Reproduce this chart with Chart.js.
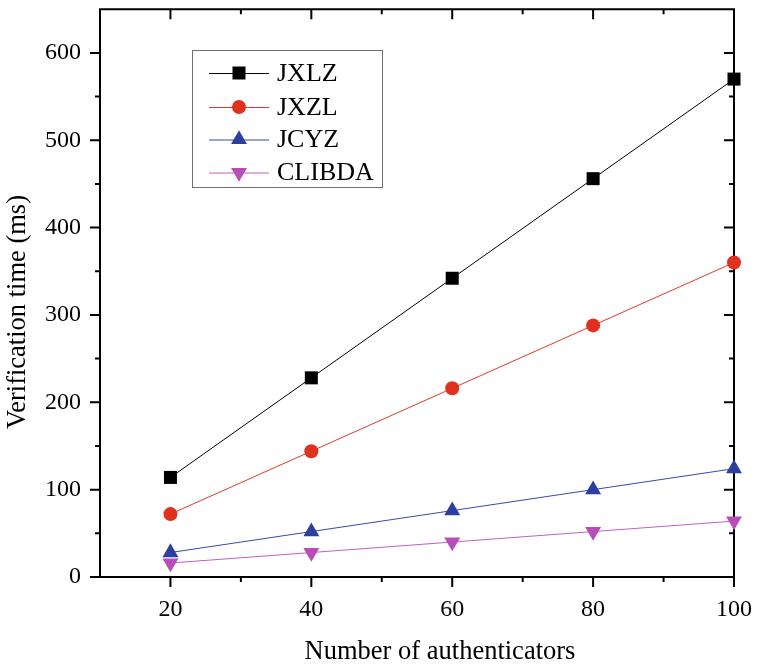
<!DOCTYPE html>
<html>
<head>
<meta charset="utf-8">
<script src="https://cdn.jsdelivr.net/npm/chart.js@4/dist/chart.umd.min.js"></script>
<style>
html,body{margin:0;padding:0;background:#fff;}
#wrap{width:758px;height:666px;}
</style>
</head>
<body>
<div id="wrap"><canvas id="c" width="758" height="666"></canvas></div>
<script>
const xValues = [20, 40, 60, 80, 100];
const jxlz = [114, 228, 342, 456, 570];
const jxzl = [72, 144, 216, 288, 360];
const jcyz = [28, 52, 76, 100, 124];
const clibda = [16, 28, 40, 52, 64];
const seriesLabels = ['JXLZ', 'JXZL', 'JCYZ', 'CLIBDA'];
const xTickValues = [20, 40, 60, 80, 100];
const xMinorValues = [30, 50, 70, 90];
const yTickValues = [0, 100, 200, 300, 400, 500, 600];
const yMinorValues = [50, 150, 250, 350, 450, 550];
const xTitle = 'Number of authenticators';
const yTitle = 'Verification time (ms)';

const FONT = 'Liberation Serif';
const toPts = (vals) => xValues.map((x, i) => ({x: x, y: vals[i]}));

const styles = [
  {line: '#000000', fill: '#000000', style: 'rect', r: 9.2, rot: 0},
  {line: '#e03a2a', fill: '#e0301e', style: 'circle', r: 7, rot: 0},
  {line: '#3a48a8', fill: '#2c3f9e', style: 'triangle', r: 9.2, rot: 0},
  {line: '#c060c8', fill: '#b84cb8', style: 'triangle', r: 9.2, rot: 180}
];
const seriesData = [jxlz, jxzl, jcyz, clibda];

const datasets = seriesData.map((vals, i) => ({
  label: seriesLabels[i],
  data: toPts(vals),
  borderColor: styles[i].line,
  backgroundColor: styles[i].fill,
  pointBackgroundColor: styles[i].fill,
  pointBorderColor: styles[i].fill,
  pointBorderWidth: 0,
  borderWidth: 1,
  pointStyle: styles[i].style,
  pointRadius: styles[i].r,
  pointHoverRadius: styles[i].r,
  pointRotation: styles[i].rot,
  tension: 0,
  clip: false
}));

function drawMarker(ctx, st, x, y) {
  ctx.save();
  ctx.fillStyle = st.fill;
  ctx.beginPath();
  const r = st.r;
  if (st.style === 'rect') {
    const s = Math.SQRT1_2 * r;
    ctx.rect(x - s, y - s, 2 * s, 2 * s);
  } else if (st.style === 'circle') {
    ctx.arc(x, y, r, 0, Math.PI * 2);
  } else {
    const rad = st.rot * Math.PI / 180;
    for (let k = 0; k < 3; k++) {
      const a = rad + k * 2 * Math.PI / 3;
      const px = x + Math.sin(a) * r;
      const py = y - Math.cos(a) * r;
      if (k === 0) ctx.moveTo(px, py); else ctx.lineTo(px, py);
    }
    ctx.closePath();
  }
  ctx.fill();
  ctx.restore();
}

const framePlugin = {
  id: 'frame',
  beforeDatasetsDraw(chart) {
    const ctx = chart.ctx;
    const {left, right, top, bottom} = chart.chartArea;
    const xs = chart.scales.x, ys = chart.scales.y;
    ctx.save();
    ctx.strokeStyle = '#000';
    ctx.lineWidth = 2;
    ctx.beginPath();
    ctx.rect(left, top, right - left, bottom - top);
    ctx.stroke();
    ctx.beginPath();
    const MAJ = 10, MIN = 5;
    xTickValues.forEach(v => {
      const p = xs.getPixelForValue(v);
      ctx.moveTo(p, bottom); ctx.lineTo(p, bottom + MAJ);
      ctx.moveTo(p, top); ctx.lineTo(p, top + MAJ);
    });
    xMinorValues.forEach(v => {
      const p = xs.getPixelForValue(v);
      ctx.moveTo(p, bottom); ctx.lineTo(p, bottom + MIN);
      ctx.moveTo(p, top); ctx.lineTo(p, top + MIN);
    });
    yTickValues.forEach(v => {
      const p = ys.getPixelForValue(v);
      ctx.moveTo(left, p); ctx.lineTo(left - MAJ, p);
      ctx.moveTo(right, p); ctx.lineTo(right - MAJ, p);
    });
    yMinorValues.forEach(v => {
      const p = ys.getPixelForValue(v);
      ctx.moveTo(left, p); ctx.lineTo(left - MIN, p);
      ctx.moveTo(right, p); ctx.lineTo(right - MIN, p);
    });
    ctx.stroke();

    // axis titles
    ctx.fillStyle = '#000';
    ctx.font = '26.5px "' + FONT + '"';
    ctx.textAlign = 'center';
    ctx.textBaseline = 'middle';
    ctx.fillText(xTitle, 440, 652);
    ctx.translate(18, 312);
    ctx.rotate(-Math.PI / 2);
    ctx.fillText(yTitle, 0, 0);
    ctx.restore();
  },
  afterDraw(chart) {
    const ctx = chart.ctx;
    ctx.save();
    const bx = 192.5, by = 50.5, bw = 190, bh = 137;
    ctx.fillStyle = '#fff';
    ctx.fillRect(bx, by, bw, bh);
    ctx.strokeStyle = '#707070';
    ctx.lineWidth = 1;
    ctx.strokeRect(bx, by, bw, bh);
    const rows = [73, 107, 139.5, 172.5];
    ctx.font = '26px "' + FONT + '"';
    ctx.textBaseline = 'middle';
    ctx.textAlign = 'left';
    chart.data.datasets.forEach((ds, i) => {
      const y = rows[i];
      ctx.strokeStyle = styles[i].line;
      ctx.lineWidth = 1;
      ctx.beginPath();
      ctx.moveTo(209, y + 0.5); ctx.lineTo(269, y + 0.5);
      ctx.stroke();
      drawMarker(ctx, styles[i], 239, y);
      ctx.fillStyle = '#000';
      ctx.fillText(ds.label, 277, y + 1);
    });
    ctx.restore();
  }
};

new Chart(document.getElementById('c'), {
  type: 'line',
  data: {datasets: datasets},
  options: {
    responsive: false,
    animation: false,
    devicePixelRatio: 1,
    layout: {padding: {top: 7, right: 24, left: 0, bottom: 0}},
    plugins: {legend: {display: false}, tooltip: {enabled: false}},
    scales: {
      x: {
        type: 'linear',
        min: 10, max: 100,
        afterBuildTicks: (s) => { s.ticks = xTickValues.map(v => ({value: v})); },
        afterFit: (s) => { s.height = 89; s.paddingLeft = 0; s.paddingRight = 0; },
        grid: {display: false, drawTicks: false},
        border: {display: false},
        ticks: {font: {family: FONT, size: 24}, color: '#000', padding: 18, maxRotation: 0}
      },
      y: {
        type: 'linear',
        min: 0, max: 650,
        afterBuildTicks: (s) => { s.ticks = yTickValues.map(v => ({value: v})); },
        afterFit: (s) => { s.width = 100; s.paddingTop = 0; s.paddingBottom = 0; },
        grid: {display: false, drawTicks: false},
        border: {display: false},
        ticks: {font: {family: FONT, size: 24}, color: '#000', padding: 19}
      }
    }
  },
  plugins: [framePlugin]
});
</script>
</body>
</html>
